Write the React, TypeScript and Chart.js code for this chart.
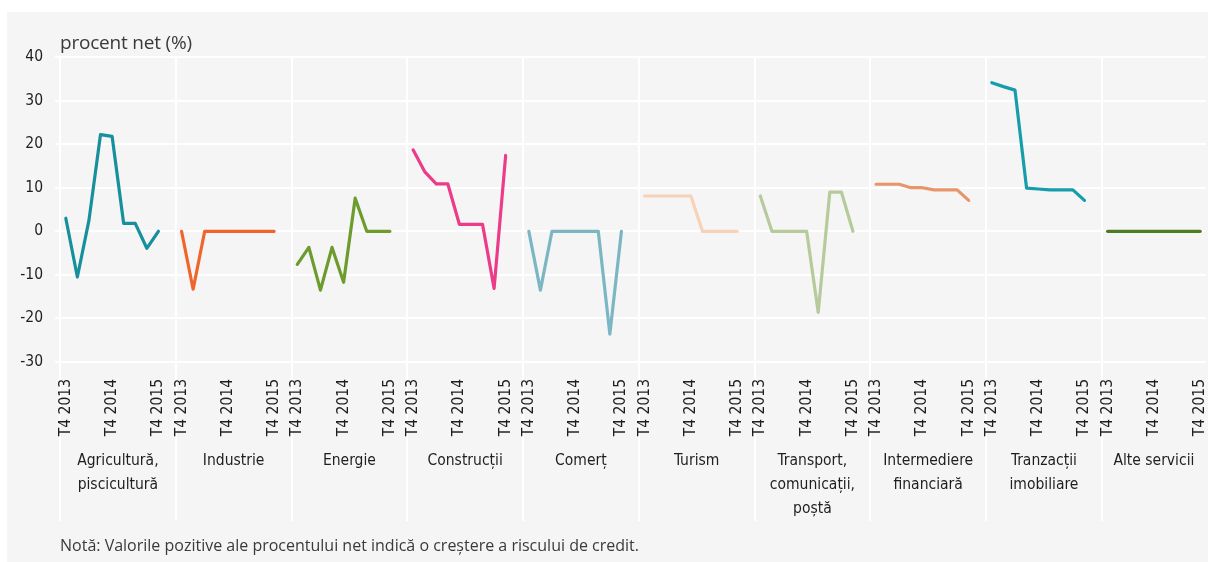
import React, { useEffect, useRef } from 'react';
import { Chart, registerables } from 'chart.js';

Chart.register(...registerables);

// ---- data ----
const quarters = ['T4 2013', 'T1 2014', 'T2 2014', 'T3 2014', 'T4 2014', 'T1 2015', 'T2 2015', 'T3 2015', 'T4 2015'];

const sectorNames: string[][] = [
  ['Agricultură,', 'piscicultură'],
  ['Industrie'],
  ['Energie'],
  ['Construcții'],
  ['Comerț'],
  ['Turism'],
  ['Transport,', 'comunicații,', 'poștă'],
  ['Intermediere', 'financiară'],
  ['Tranzacții', 'imobiliare'],
  ['Alte servicii'],
];

const agricultura = [3, -10.5, 2.5, 22.2, 21.8, 1.8, 1.8, -3.9, 0];
const industrie = [0, -13.3, 0, 0, 0, 0, 0, 0, 0];
const energie = [-7.6, -3.7, -13.5, -3.7, -11.7, 7.6, 0, 0, 0];
const constructii = [18.7, 13.7, 10.9, 10.9, 1.6, 1.6, 1.6, -13.1, 17.4];
const comert = [0, -13.5, 0, 0, 0, 0, 0, -23.6, 0];
const turism = [8.1, 8.1, 8.1, 8.1, 8.1, 0, 0, 0, 0];
const transport = [8.1, 0, 0, 0, 0, -18.6, 9, 9, 0];
const intermediere = [10.8, 10.8, 10.8, 10.0, 10.0, 9.5, 9.5, 9.5, 7.1];
const tranzactii = [34.1, 33.2, 32.4, 9.9, 9.7, 9.5, 9.5, 9.5, 7.1];
const alteServicii = [0, 0, 0, 0, 0, 0, 0, 0, 0];

const seriesValues = [agricultura, industrie, energie, constructii, comert, turism, transport, intermediere, tranzactii, alteServicii];
const seriesColors = ['#17909d', '#f0652b', '#6d9b2d', '#ec3b89', '#7bb7c3', '#f8d1b9', '#b7ca9b', '#e9956b', '#169dab', '#4f7b23'];

const yMin = -30;
const yMax = 40;
const yStep = 10;

const yAxisLabel = 'procent net (%)';
const noteText = 'Notă: Valorile pozitive ale procentului net indică o creștere a riscului de credit.';

// ---- derived structure ----
const GROUP_SLOTS = quarters.length + 1; // 9 quarters + one empty gap slot
const labels: string[] = [];
seriesValues.forEach((_, g) => {
  quarters.forEach((q) => labels.push(q));
  if (g < seriesValues.length - 1) labels.push('');
});

const datasets = seriesValues.map((vals, g) => {
  const data: (number | null)[] = labels.map(() => null);
  vals.forEach((v, i) => {
    data[g * GROUP_SLOTS + i] = v;
  });
  return {
    label: sectorNames[g].join(' '),
    data,
    borderColor: seriesColors[g],
    backgroundColor: seriesColors[g],
    borderWidth: 3.2,
    borderCapStyle: 'round' as const,
    borderJoinStyle: 'round' as const,
    pointRadius: 0,
    tension: 0,
    spanGaps: false,
  };
});

const NARROW = "'Liberation Sans Narrow', 'DejaVu Sans Condensed', sans-serif";
const TEXT_COLOR = '#1e1e1e';

const groupPlugin = {
  id: 'groupPlugin',
  beforeDraw(chart: any) {
    const { ctx, chartArea, scales } = chart;
    const x = scales.x;
    ctx.save();
    ctx.strokeStyle = '#ffffff';
    ctx.lineWidth = 2;
    for (let g = 0; g < seriesValues.length; g++) {
      const px = Math.round(x.getPixelForValue(g * GROUP_SLOTS - 0.5));
      ctx.beginPath();
      ctx.moveTo(px, chartArea.top);
      ctx.lineTo(px, 521);
      ctx.stroke();
    }
    ctx.restore();
  },
  afterDraw(chart: any) {
    const { ctx, chartArea, scales } = chart;
    const x = scales.x;
    ctx.save();
    ctx.fillStyle = TEXT_COLOR;
    ctx.font = `15.5px ${NARROW}`;
    ctx.textAlign = 'center';
    ctx.textBaseline = 'middle';
    for (let g = 0; g < seriesValues.length; g++) {
      const left = x.getPixelForValue(g * GROUP_SLOTS - 0.5);
      const right = g < seriesValues.length - 1 ? x.getPixelForValue((g + 1) * GROUP_SLOTS - 0.5) : chartArea.right;
      const cx = (left + right) / 2;
      sectorNames[g].forEach((line, k) => {
        ctx.fillText(line, cx, 461 + k * 24);
      });
    }
    ctx.restore();
  },
};

export default function App() {
  const canvasRef = useRef<HTMLCanvasElement | null>(null);

  useEffect(() => {
    if (!canvasRef.current) return;
    const chart = new Chart(canvasRef.current, {
      type: 'line',
      data: { labels, datasets },
      options: {
        responsive: false,
        animation: false,
        layout: { padding: { top: 57, right: 2, left: 0, bottom: 0 } },
        plugins: {
          legend: { display: false },
          tooltip: { enabled: false },
          title: { display: false },
        },
        scales: {
          x: {
            type: 'category',
            offset: true,
            grid: { display: false },
            border: { display: false },
            ticks: {
              autoSkip: false,
              maxRotation: 90,
              minRotation: 90,
              padding: 9,
              color: TEXT_COLOR,
              font: { family: NARROW, size: 15.5 },
              callback: function (this: any, value: any) {
                const l = this.getLabelForValue(value) as string;
                return l.startsWith('T4') ? l : '';
              },
            },
            afterFit: (s: any) => {
              s.height = 200;
              s.paddingLeft = 0;
              s.paddingRight = 0;
            },
          },
          y: {
            min: yMin,
            max: yMax,
            border: { display: false },
            grid: { color: '#ffffff', lineWidth: 2, tickLength: 5, drawTicks: true },
            ticks: {
              stepSize: yStep,
              padding: 12,
              color: TEXT_COLOR,
              font: { family: NARROW, size: 15.5 },
            },
            afterFit: (s: any) => {
              s.width = 60;
              s.paddingTop = 0;
              s.paddingBottom = 0;
            },
          },
        },
      },
      plugins: [groupPlugin],
    });
    return () => chart.destroy();
  }, []);

  return (
    <div style={{ position: 'fixed', left: 0, top: 0, width: 1208, height: 562, background: '#ffffff', overflow: 'hidden' }}>
      <div style={{ position: 'absolute', left: 7, top: 12, width: 1201, height: 550, background: '#f5f5f5' }} />
      <canvas ref={canvasRef} width={1208} height={562} style={{ position: 'absolute', left: 0, top: 0, width: 1208, height: 562 }} />
      <div
        style={{
          position: 'absolute',
          left: 60,
          top: 30,
          fontFamily: "'Open Sans', sans-serif",
          fontSize: 19,
          lineHeight: '24px',
          color: '#3a3a3a',
          whiteSpace: 'nowrap',
          letterSpacing: '-0.2px',
        }}
      >
        {yAxisLabel}
      </div>
      <div
        style={{
          position: 'absolute',
          left: 60,
          top: 535,
          fontFamily: "'Open Sans', sans-serif",
          fontSize: 16,
          lineHeight: '20px',
          color: '#3a3a3a',
          whiteSpace: 'nowrap',
        }}
      >
        {noteText}
      </div>
    </div>
  );
}
